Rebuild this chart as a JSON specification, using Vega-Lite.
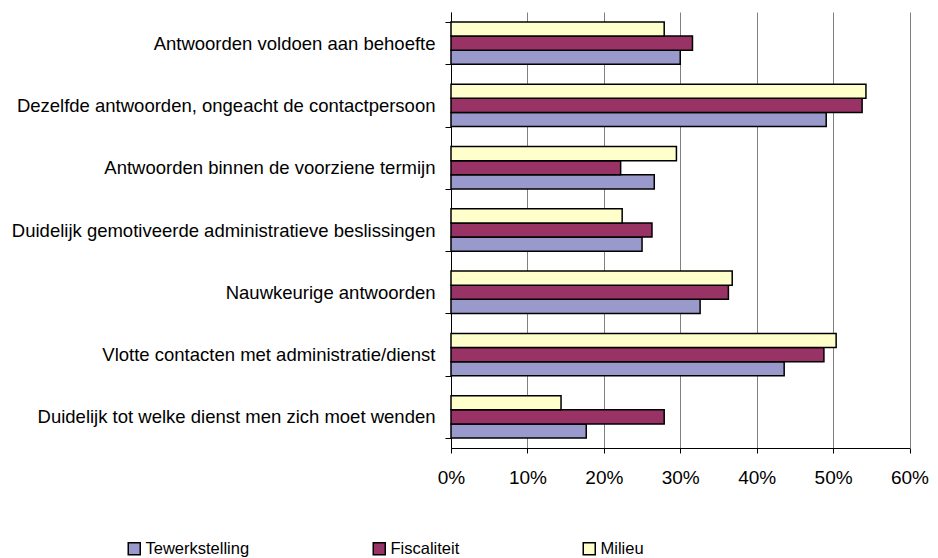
{
  "$schema": "https://vega.github.io/schema/vega-lite/v6.json",
  "width": 458.5,
  "height": 436,
  "autosize": "none",
  "padding": {"left": 451, "top": 12, "right": 28.5, "bottom": 110},
  "background": "white",
  "config": {"view": {"stroke": null}, "font": "Liberation Sans"},
  "data": {
    "values": [
      {"item": "Antwoorden voldoen aan behoefte", "series": "Tewerkstelling", "value": 0.300},
      {"item": "Antwoorden voldoen aan behoefte", "series": "Fiscaliteit", "value": 0.316},
      {"item": "Antwoorden voldoen aan behoefte", "series": "Milieu", "value": 0.279},
      {"item": "Dezelfde antwoorden, ongeacht de contactpersoon", "series": "Tewerkstelling", "value": 0.491},
      {"item": "Dezelfde antwoorden, ongeacht de contactpersoon", "series": "Fiscaliteit", "value": 0.538},
      {"item": "Dezelfde antwoorden, ongeacht de contactpersoon", "series": "Milieu", "value": 0.543},
      {"item": "Antwoorden binnen de voorziene termijn", "series": "Tewerkstelling", "value": 0.266},
      {"item": "Antwoorden binnen de voorziene termijn", "series": "Fiscaliteit", "value": 0.222},
      {"item": "Antwoorden binnen de voorziene termijn", "series": "Milieu", "value": 0.295},
      {"item": "Duidelijk gemotiveerde administratieve beslissingen", "series": "Tewerkstelling", "value": 0.250},
      {"item": "Duidelijk gemotiveerde administratieve beslissingen", "series": "Fiscaliteit", "value": 0.263},
      {"item": "Duidelijk gemotiveerde administratieve beslissingen", "series": "Milieu", "value": 0.224},
      {"item": "Nauwkeurige antwoorden", "series": "Tewerkstelling", "value": 0.326},
      {"item": "Nauwkeurige antwoorden", "series": "Fiscaliteit", "value": 0.363},
      {"item": "Nauwkeurige antwoorden", "series": "Milieu", "value": 0.368},
      {"item": "Vlotte contacten met administratie/dienst", "series": "Tewerkstelling", "value": 0.436},
      {"item": "Vlotte contacten met administratie/dienst", "series": "Fiscaliteit", "value": 0.488},
      {"item": "Vlotte contacten met administratie/dienst", "series": "Milieu", "value": 0.504},
      {"item": "Duidelijk tot welke dienst men zich moet wenden", "series": "Tewerkstelling", "value": 0.177},
      {"item": "Duidelijk tot welke dienst men zich moet wenden", "series": "Fiscaliteit", "value": 0.279},
      {"item": "Duidelijk tot welke dienst men zich moet wenden", "series": "Milieu", "value": 0.144}
    ]
  },
  "mark": {"type": "bar", "stroke": "black", "strokeWidth": 1.5},
  "encoding": {
    "y": {
      "field": "item",
      "type": "nominal",
      "sort": null,
      "title": null,
      "scale": {"paddingInner": 0.32, "paddingOuter": 0.16},
      "axis": {
        "tickBand": "extent",
        "domainColor": "black",
        "tickColor": "black",
        "tickSize": 6,
        "labelFontSize": 18.5,
        "labelFont": "Liberation Sans",
        "labelColor": "black",
        "labelPadding": 10,
        "labelLimit": 500
      }
    },
    "yOffset": {
      "field": "series",
      "type": "nominal",
      "sort": ["Milieu", "Fiscaliteit", "Tewerkstelling"],
      "scale": {"paddingInner": 0, "paddingOuter": 0}
    },
    "x": {
      "field": "value",
      "type": "quantitative",
      "scale": {"domain": [0, 0.6], "nice": false},
      "axis": {
        "title": null,
        "format": ".0%",
        "values": [0, 0.1, 0.2, 0.3, 0.4, 0.5, 0.6],
        "grid": true,
        "gridColor": "#808080",
        "gridWidth": 1,
        "domainColor": "black",
        "tickColor": "black",
        "tickSize": 5,
        "labelFontSize": 19,
        "labelFont": "Liberation Sans",
        "labelColor": "black",
        "labelPadding": 15,
        "labelFlush": false
      }
    },
    "color": {
      "field": "series",
      "type": "nominal",
      "scale": {
        "domain": ["Tewerkstelling", "Fiscaliteit", "Milieu"],
        "range": ["#9999CC", "#993366", "#FFFFCC"]
      },
      "legend": {
        "orient": "none",
        "legendX": -325,
        "legendY": 528,
        "direction": "horizontal",
        "title": null,
        "symbolType": "square",
        "symbolSize": 144,
        "symbolStrokeColor": "black",
        "symbolStrokeWidth": 1.5,
        "labelFontSize": 16.5,
        "labelFont": "Liberation Sans",
        "labelColor": "black",
        "labelOffset": 3,
        "labelLimit": 300,
        "columnPadding": 120
      }
    }
  }
}
